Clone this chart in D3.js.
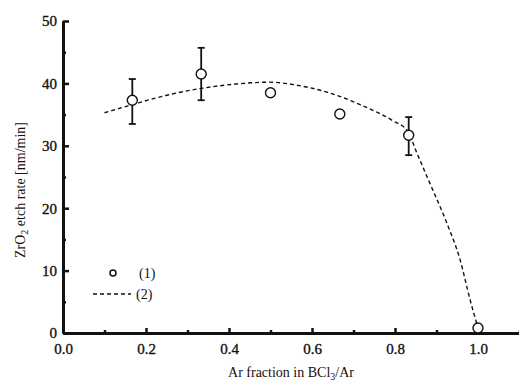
<!DOCTYPE html>
<html>
<head>
<meta charset="utf-8">
<script src="https://cdn.jsdelivr.net/npm/d3@7"></script>
<style>
  body { margin: 0; background: #fff; }
  text { font-family: "Liberation Serif", "DejaVu Serif", serif; fill: #111; }
</style>
</head>
<body>
<div class="canvas"></div>
<script>
// measured points (1)
const fraction = [0.167, 0.333, 0.5, 0.667, 0.833, 1.0]
const rate = [37.3, 41.5, 38.5, 35.1, 31.7, 0.8]
const errLow = [33.5, 37.3, null, null, 28.5, null]
const errHigh = [40.7, 45.7, null, null, 34.6, null]

// fitted curve (2)
const fitX = [0.1, 0.167, 0.25, 0.333, 0.417, 0.5, 0.555, 0.636, 0.716, 0.795, 0.83, 0.853, 0.884, 0.925, 0.957, 0.981, 1.0]
const fitY = [35.3, 36.6, 38.1, 39.2, 39.9, 40.2, 39.8, 38.6, 36.6, 34.0, 32.4, 28.8, 24.0, 17.6, 11.7, 5.3, 0.8]

const xMajor = [0, 0.2, 0.4, 0.6, 0.8, 1.0]
const xMinor = [0.1, 0.3, 0.5, 0.7, 0.9, 1.1]
const yMajor = [0, 10, 20, 30, 40, 50]
const yMinor = [5, 15, 25, 35, 45]

const width = 519
const height = 384
const margins = { top: 21, left: 63, bottom: 51 }

const svg = d3.select('.canvas').append('svg').attr('width', width).attr('height', height)

const x = d3.scaleLinear().domain([0, 1.1]).range([margins.left, margins.left + 1.1 * 415])
const y = d3.scaleLinear().domain([0, 50]).range([height - margins.bottom, margins.top])

// axes, ticks pointing inward
const styleAxis = (g) => {
    g.select('.domain').attr('stroke', '#111').attr('stroke-width', 3)
    g.selectAll('.tick line').attr('stroke', '#111').attr('stroke-width', 2.5)
    g.selectAll('.tick text').attr('font-size', 15).attr('font-family', '"Liberation Serif", serif')
        .attr('fill', '#111').attr('stroke', '#111').attr('stroke-width', 0.35)
}

const xMinorG = svg.append('g').attr('transform', `translate(0, ${y(0)})`)
    .call(d3.axisBottom(x).tickValues(xMinor).tickSize(-3).tickFormat('').tickSizeOuter(0))
styleAxis(xMinorG)
const xAxisG = svg.append('g').attr('transform', `translate(0, ${y(0)})`)
    .call(d3.axisBottom(x).tickValues(xMajor).tickSize(-5).tickPadding(10).tickFormat(d3.format('.1f')).tickSizeOuter(0))
styleAxis(xAxisG)

const yMinorG = svg.append('g').attr('transform', `translate(${x(0)}, 0)`)
    .call(d3.axisLeft(y).tickValues(yMinor).tickSize(-3).tickFormat('').tickSizeOuter(0))
styleAxis(yMinorG)
const yAxisG = svg.append('g').attr('transform', `translate(${x(0)}, 0)`)
    .call(d3.axisLeft(y).tickValues(yMajor).tickSize(-6).tickPadding(6).tickSizeOuter(0))
styleAxis(yAxisG)

// fitted curve
const line = d3.line().x(d => x(d[0])).y(d => y(d[1])).curve(d3.curveMonotoneX)
svg.append('path')
    .datum(fitX.map((v, i) => [v, fitY[i]]))
    .attr('d', line)
    .attr('fill', 'none')
    .attr('stroke', '#111')
    .attr('stroke-width', 1.4)
    .attr('stroke-dasharray', '4,3')

// error bars
const pts = fraction.map((v, i) => ({ x: v, y: rate[i], lo: errLow[i], hi: errHigh[i] }))
const bars = svg.append('g').selectAll('g').data(pts.filter(d => d.lo != null)).enter().append('g')
bars.append('line')
    .attr('x1', d => x(d.x)).attr('x2', d => x(d.x))
    .attr('y1', d => y(d.lo)).attr('y2', d => y(d.hi))
    .attr('stroke', '#111').attr('stroke-width', 1.8)
bars.selectAll('.cap').data(d => [[d.x, d.lo], [d.x, d.hi]]).enter().append('line')
    .attr('x1', d => x(d[0]) - 3.5).attr('x2', d => x(d[0]) + 3.5)
    .attr('y1', d => y(d[1])).attr('y2', d => y(d[1]))
    .attr('stroke', '#111').attr('stroke-width', 1.8)

// points
svg.append('g').selectAll('circle').data(pts).enter().append('circle')
    .attr('cx', d => x(d.x))
    .attr('cy', d => y(d.y))
    .attr('r', 5)
    .attr('fill', '#fff')
    .attr('stroke', '#111')
    .attr('stroke-width', 1.4)

// legend
const legend = svg.append('g')
legend.append('circle').attr('cx', 113).attr('cy', 273).attr('r', 3)
    .attr('fill', '#fff').attr('stroke', '#111').attr('stroke-width', 1.5)
legend.append('text').attr('x', 139).attr('y', 278).attr('font-size', 14).text('(1)')
legend.append('line').attr('x1', 93).attr('x2', 131).attr('y1', 294).attr('y2', 294)
    .attr('stroke', '#111').attr('stroke-width', 1.4).attr('stroke-dasharray', '4,3')
legend.append('text').attr('x', 136).attr('y', 299).attr('font-size', 14).text('(2)')

// axis titles
const xt = svg.append('text').attr('x', 291).attr('y', 377).attr('text-anchor', 'middle').attr('font-size', 14)
xt.append('tspan').text('Ar fraction in BCl')
xt.append('tspan').attr('dy', 3).attr('font-size', 10).text('3')
xt.append('tspan').attr('dy', -3).text('/Ar')

const yt = svg.append('text').attr('transform', 'translate(25, 190) rotate(-90)').attr('text-anchor', 'middle').attr('font-size', 14)
yt.append('tspan').text('ZrO')
yt.append('tspan').attr('dy', 3).attr('font-size', 10).text('2')
yt.append('tspan').attr('dy', -3).text(' etch rate [nm/min]')
</script>
</body>
</html>
